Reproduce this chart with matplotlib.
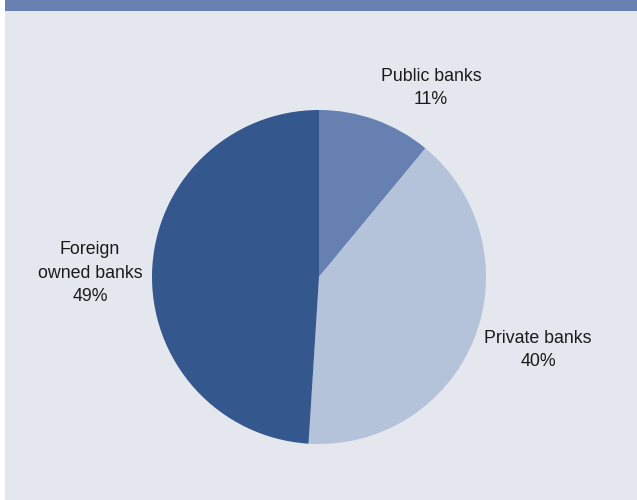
import matplotlib
matplotlib.use("Agg")
import matplotlib.pyplot as plt
from matplotlib.patches import Rectangle

plt.rcParams["font.family"] = ["Liberation Sans", "DejaVu Sans"]

labels = ["Public banks", "Private banks", "Foreign\nowned banks"]
shares = [11, 40, 49]
colors = ["#6681b1", "#b4c2da", "#34578e"]
label_pos = [(431, 88), (538, 350), (90, 273)]  # pixel positions of the labels

W, H = 637, 500
fig = plt.figure(figsize=(W / 100, H / 100), dpi=100)
fig.patch.set_facecolor("white")

# grey panel and blue header band
fig.patches.append(Rectangle((5 / W, 0), 1 - 5 / W, 1, transform=fig.transFigure,
                             facecolor="#e4e8ee", edgecolor="none", zorder=-2))
fig.patches.append(Rectangle((5 / W, 1 - 11 / H), 1 - 5 / W, 11 / H, transform=fig.transFigure,
                             facecolor="#6681b1", edgecolor="none", zorder=-1))

cx, cy, r = 319, 277, 167
ax = fig.add_axes([(cx - r) / W, 1 - (cy + r) / H, 2 * r / W, 2 * r / H])
ax.set_zorder(2)
ax.pie(shares, colors=colors, startangle=90, counterclock=False,
       wedgeprops=dict(linewidth=0))
ax.set_xlim(-1, 1)
ax.set_ylim(-1, 1)
ax.set_aspect("equal")
ax.axis("off")

for lab, val, (x, y) in zip(labels, shares, label_pos):
    fig.text(x / W, 1 - y / H, f"{lab}\n{val}%", ha="center", va="center",
             fontsize=12.8, color="#1a1a1a", linespacing=1.5, zorder=3)

fig.savefig("out.png", dpi=100)
